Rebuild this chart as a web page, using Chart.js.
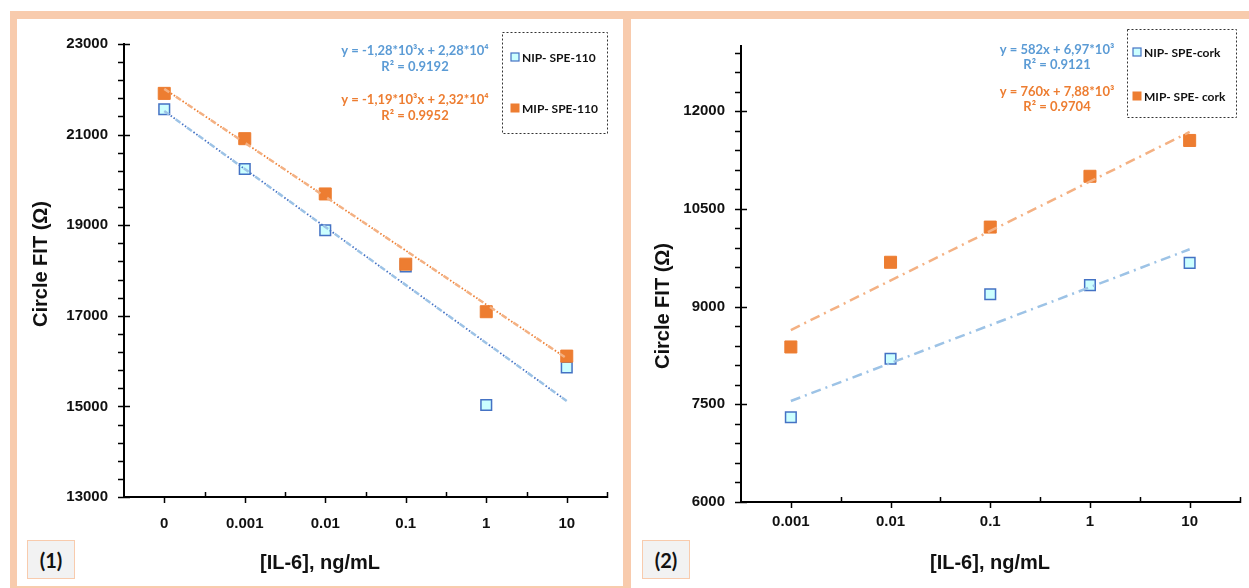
<!DOCTYPE html>
<html>
<head>
<meta charset="utf-8">
<script src="https://cdn.jsdelivr.net/npm/chart.js@4.4.1/dist/chart.umd.min.js"></script>
<style>
html, body { margin: 0; padding: 0; background: #fff; }
body { width: 1249px; height: 588px; position: relative; overflow: hidden; }
.frame { position: absolute; box-sizing: border-box; border-color: #f8cbad; border-style: solid; }
#frame1 { left: 10px; top: 11px; width: 621px; height: 577px; border-width: 8px 8px 2px 7px; }
#frame2 { left: 631px; top: 11px; width: 640px; height: 577px; border-width: 8px 0 0 0; }
canvas { position: absolute; }
#c1 { left: 17px; top: 19px; }
#c2 { left: 631px; top: 19px; }
.tag { position: absolute; top: 540px; height: 39px; width: 48px; box-sizing: border-box;
       background: #f2f2f2; border: 1px solid #f8cbad; color: #111;
       font: bold 20px Lato, "Liberation Sans", sans-serif;
       display: flex; align-items: center; justify-content: center; }
</style>
</head>
<body>
<div class="frame" id="frame1"></div>
<div class="frame" id="frame2"></div>
<canvas id="c1" width="606" height="567"></canvas>
<canvas id="c2" width="618" height="569"></canvas>
<div class="tag" style="left:27px">(1)</div>
<div class="tag" style="left:642px">(2)</div>

<script>
// ---- data: panel (1), SPE-110 ----
const labels1 = ['0', '0.001', '0.01', '0.1', '1', '10'];
const yTicks1 = [13000, 15000, 17000, 19000, 21000, 23000];
const nip1 = [21560, 20240, 18890, 18090, 15030, 15860];
const mip1 = [21910, 20910, 19690, 18140, 17090, 16110];
// trendline ends, middle left empty
const nipTrend1 = [21520, null, null, null, null, 15120];
const mipTrend1 = [22010, null, null, null, null, 16060];
const series1 = ['NIP- SPE-110', 'MIP- SPE-110'];
const eqs1 = [['y = -1,28*10³x + 2,28*10⁴', 'R² = 0.9192'],
              ['y = -1,19*10³x + 2,32*10⁴', 'R² = 0.9952']];

// ---- data: panel (2), SPE-cork ----
const labels2 = ['0.001', '0.01', '0.1', '1', '10'];
const yTicks2 = [6000, 7500, 9000, 10500, 12000];
const nip2 = [7300, 8200, 9190, 9330, 9670];
const mip2 = [8380, 9680, 10220, 11000, 11550];
const nipTrend2 = [7550, null, null, null, 9880];
const mipTrend2 = [8640, null, null, null, 11680];
const series2 = ['NIP- SPE-cork', 'MIP- SPE- cork'];
const eqs2 = [['y = 582x + 6,97*10³', 'R² = 0.9121'],
              ['y = 760x + 7,88*10³', 'R² = 0.9704']];

const yTitle = 'Circle FIT (Ω)';
const xTitle = '[IL-6], ng/mL';

const BLUE_TXT = '#5b9bd5', ORANGE = '#ed7d31';
const NIP_FILL = '#ccffff', NIP_EDGE = '#4472c4';
const LIGHT_BLUE = '#9dc3e6', LIGHT_ORANGE = '#f4b183';
const FONT = 'Liberation Sans, Arial, sans-serif';
const SMALL_FONT = 'Lato, "Liberation Sans", sans-serif';

// marker datasets
function nipPoints(data) {
    return { data: data, showLine: false, pointStyle: 'rect', pointRadius: 7.5,
             backgroundColor: NIP_FILL, borderColor: NIP_EDGE, pointBorderWidth: 1.5 };
}
function mipPoints(data) {
    return { data: data, showLine: false, pointStyle: 'rect', pointRadius: 8.5,
             backgroundColor: ORANGE, borderColor: ORANGE, pointBorderWidth: 1 };
}
function trend(data, color, dash, offset, width) {
    return { data: data, spanGaps: true, pointRadius: 0, borderColor: color, borderWidth: width,
             borderDash: dash, borderDashOffset: offset || 0, fill: false };
}

// draws axis ticks, titles, equations and the legend box
function decorPlugin(cfg) {
    return {
        id: 'decor',
        afterDraw(chart) {
            const ctx = chart.ctx, area = chart.chartArea;
            const ys = chart.scales.y, xs = chart.scales.x;
            ctx.save();
            ctx.strokeStyle = '#000';
            ctx.lineWidth = 1.5;
            ctx.beginPath();
            const steps = Math.round((ys.max - ys.min) / cfg.minorStep);
            for (let k = 0; k <= steps; k++) {
                const v = ys.min + k * cfg.minorStep;
                if (v > ys.max) break;
                const py = Math.round(ys.getPixelForValue(v)) + 0.5;
                const major = (v - ys.min) % cfg.majorStep === 0;
                ctx.moveTo(area.left - 6, py);
                ctx.lineTo(area.left + (major ? 6 : 0), py);
            }
            const half = (xs.getPixelForValue(1) - xs.getPixelForValue(0)) / 2;
            for (let i = 0; i < xs.ticks.length; i++) {
                const px = Math.round(xs.getPixelForValue(i)) + 0.5;
                ctx.moveTo(px, area.bottom);
                ctx.lineTo(px, area.bottom + 6);
                const bx = Math.round(xs.getPixelForValue(i) + half) + 0.5;
                ctx.moveTo(bx, area.bottom + 1);
                ctx.lineTo(bx, area.bottom - 5);
            }
            ctx.stroke();

            // axis titles
            ctx.fillStyle = '#111';
            ctx.font = 'bold 20px ' + FONT;
            ctx.textAlign = 'center';
            ctx.textBaseline = 'middle';
            ctx.fillText(xTitle, cfg.xTitle[0], cfg.xTitle[1]);
            ctx.save();
            ctx.translate(cfg.yTitle[0], cfg.yTitle[1]);
            ctx.rotate(-Math.PI / 2);
            ctx.fillText(yTitle, 0, 0);
            ctx.restore();

            // trendline equations
            ctx.font = 'bold 13px ' + SMALL_FONT;
            cfg.eqs.forEach((pair, i) => {
                ctx.fillStyle = i === 0 ? BLUE_TXT : ORANGE;
                ctx.fillText(pair[0], cfg.eqX, cfg.eqY[i]);
                ctx.fillText(pair[1], cfg.eqX, cfg.eqY[i] + cfg.eqGap);
            });

            // legend box
            const b = cfg.box;
            ctx.setLineDash([2, 2]);
            ctx.strokeStyle = '#333';
            ctx.lineWidth = 1;
            ctx.strokeRect(b[0] + 0.5, b[1] + 0.5, b[2], b[3]);
            ctx.setLineDash([]);
            ctx.textAlign = 'left';
            ctx.font = 'bold 12px ' + SMALL_FONT;
            cfg.names.forEach((name, i) => {
                const my = cfg.legY[i];
                if (i === 0) {
                    ctx.fillStyle = NIP_FILL;
                    ctx.fillRect(cfg.legX - 4, my - 4, 8, 8);
                    ctx.strokeStyle = NIP_EDGE;
                    ctx.lineWidth = 1.2;
                    ctx.strokeRect(cfg.legX - 4, my - 4, 8, 8);
                } else {
                    ctx.fillStyle = ORANGE;
                    ctx.fillRect(cfg.legX - 4.5, my - 4.5, 9, 9);
                }
                ctx.fillStyle = '#111';
                ctx.fillText(name, cfg.legX + 7, my + 1);
            });
            ctx.restore();
        }
    };
}

function makeOptions(yMin, yMax, yTicks, areaPad, yWidth, xHeight, xPad) {
    return {
        responsive: false,
        animation: false,
        devicePixelRatio: 1,
        layout: { padding: areaPad },
        plugins: { legend: { display: false }, tooltip: { enabled: false } },
        scales: {
            x: {
                offset: true,
                grid: { display: false, drawTicks: false },
                border: { display: true, color: '#000', width: 2 },
                ticks: { color: '#111', padding: xPad, maxRotation: 0,
                         font: { family: FONT, size: 15, weight: 'bold' } },
                afterFit: s => { s.height = xHeight; }
            },
            y: {
                min: yMin, max: yMax,
                grid: { display: false, drawTicks: false },
                border: { display: true, color: '#000', width: 2 },
                ticks: { color: '#111', padding: 16, autoSkip: false,
                         font: { family: FONT, size: 15, weight: 'bold' },
                         callback: v => String(v) },
                afterBuildTicks: s => { s.ticks = yTicks.map(v => ({ value: v })); },
                afterFit: s => { s.width = yWidth; }
            }
        }
    };
}

// panel (1)
new Chart(document.getElementById('c1'), {
    type: 'line',
    data: {
        labels: labels1,
        datasets: [
            trend(nipTrend1, LIGHT_BLUE, [6, 8], 0, 2.5),
            trend(nipTrend1, NIP_EDGE, [1.5, 2, 1.5, 9], 6, 1.8),
            trend(mipTrend1, LIGHT_ORANGE, [6, 8], 0, 2.5),
            trend(mipTrend1, ORANGE, [1.5, 2, 1.5, 9], 6, 1.8),
            mipPoints(mip1),
            nipPoints(nip1)
        ]
    },
    options: makeOptions(13000, 23000, yTicks1, { top: 23, right: 16, left: 0, bottom: 0 }, 107, 89, 18),
    plugins: [decorPlugin({
        minorStep: 400, majorStep: 2000,
        xTitle: [303, 544], yTitle: [24, 245],
        eqs: eqs1, eqX: 398, eqY: [32, 81], eqGap: 16,
        box: [485, 13, 105, 101],
        names: series1, legX: 498, legY: [38, 89]
    })]
});

// panel (2)
new Chart(document.getElementById('c2'), {
    type: 'line',
    data: {
        labels: labels2,
        datasets: [
            trend(nipTrend2, LIGHT_BLUE, [10, 5, 2, 5], 0, 2.5),
            trend(mipTrend2, LIGHT_ORANGE, [10, 5, 2, 5], 0, 2.5),
            mipPoints(mip2),
            nipPoints(nip2)
        ]
    },
    options: makeOptions(6000, 13000, yTicks2, { top: 27, right: 8, left: 0, bottom: 0 }, 110, 86, 11),
    plugins: [decorPlugin({
        minorStep: 300, majorStep: 1500,
        xTitle: [359, 544], yTitle: [32, 287],
        eqs: eqs2, eqX: 426, eqY: [31, 73], eqGap: 15,
        box: [496, 10, 109, 88],
        names: series2, legX: 506, legY: [33, 77]
    })]
});
</script>
</body>
</html>
